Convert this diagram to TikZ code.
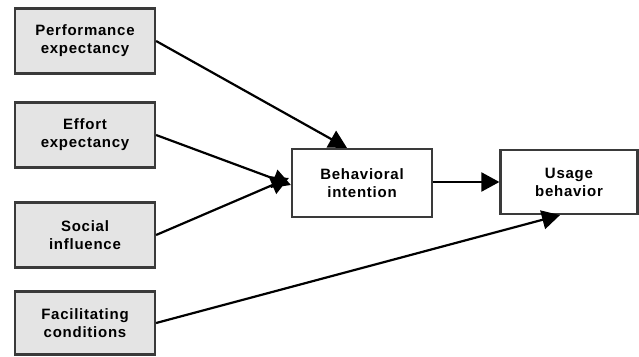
\documentclass[tikz,border=0pt]{standalone}
\usepackage{fontspec}
\setmainfont[LetterSpace=5]{Liberation Sans}
\usetikzlibrary{arrows.meta}
\usetikzlibrary{positioning}

\definecolor{boxgray}{HTML}{E4E4E4}
\definecolor{edgegray}{HTML}{3A3A3A}

\begin{document}
\begin{tikzpicture}[x=1pt, y=-1pt,
    construct/.style={draw=edgegray, line width=2.2pt, fill=boxgray, align=center,
      minimum width=140pt, minimum height=65pt, inner sep=0pt,
      font=\fontsize{15}{18}\selectfont\bfseries},
    outcome/.style={construct, fill=white},
    path/.style={line width=2.2pt, -{Triangle[length=18pt,width=19pt]}}]

      \useasboundingbox (0,0) rectangle (639,356);

      % predictors
      \node [construct] (perf) at (85,41) {Performance\\expectancy};
      \node [construct] (effort) at (85,135) {Effort\\expectancy};
      \node [construct] (social) at (85,235) {Social\\influence};
      \node [construct, minimum height=63pt] (facil) at (85,323) {Facilitating\\conditions};

      % outcomes
      \node [outcome, minimum height=68pt] (intent) at (362,183) {Behavioral\\intention};
      \node [outcome, minimum width=137pt, minimum height=64pt] (usage) at (569,182) {Usage\\behavior};

      \draw [path] (perf.east) -- ([xshift=-15pt]intent.north);
      \draw [path] (effort.east) -- ([yshift=-2pt]intent.west);
      \draw [path] (social.east) -- ([yshift=5pt,xshift=-2pt]intent.west);
      \draw [path] (intent.east |- usage.west) -- (usage.west);
      \draw [path] (facil.east) -- ([xshift=-9pt]usage.south);

    \end{tikzpicture}
\end{document}
